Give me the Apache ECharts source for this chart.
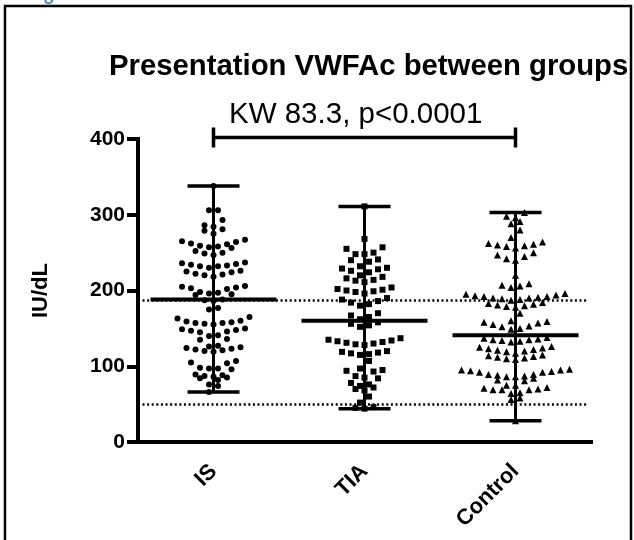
<!DOCTYPE html>
<html>
<head>
<meta charset="utf-8">
<script src="https://cdn.jsdelivr.net/npm/echarts@6/dist/echarts.min.js"></script>
<style>
  html, body { margin: 0; padding: 0; background: #fff; }
  #main { width: 634px; height: 540px; }
</style>
</head>
<body>
<div id="main"></div>
<script>
  // groups on the x axis
  const groups = ['IS', 'TIA', 'Control'];

  // VWFAc values (IU/dL)
  const isValues = [
    338, 306, 306, 293, 286, 284, 281, 279, 275,
    267, 265, 264, 262, 261, 259, 258, 257, 256,
    252, 250, 249, 247,
    237, 236, 235, 234, 233, 232, 232, 230,
    226, 225, 224, 222, 221, 220, 218,
    206, 205, 204, 203, 202, 198, 197, 196, 195, 194,
    188, 187, 186, 177, 175,
    165, 163, 160, 159, 158, 157, 157, 156, 155,
    150, 149, 148, 147, 146, 145, 141, 140, 136, 135,
    127, 126, 125, 124, 123, 122, 121, 120, 119,
    107, 105, 104, 98, 97, 97, 96,
    89, 88, 87, 86, 85, 84, 82, 76, 74, 66
  ];
  const tiaValues = [
    311, 268, 257, 255, 250, 248, 248, 241, 240, 238,
    232, 230, 229, 228, 226, 224, 220, 218, 216, 214, 213, 211,
    204, 202, 201, 200, 199, 198, 196, 190, 188, 186, 184, 182, 180,
    170, 167, 165, 162, 158, 156, 154, 152,
    137, 135, 134, 133, 132, 131, 130, 129, 128,
    120, 119, 118, 117, 116, 115, 107,
    97, 95, 94, 93, 87, 85, 84,
    78, 76, 74, 72, 70, 68, 60, 52, 46, 45, 44
  ];
  const controlValues = [
    303, 298, 296, 291, 288, 280, 270, 264,
    262, 261, 260, 259, 258, 256, 250, 247, 245, 242, 240,
    220, 209, 207, 206, 204,
    196, 195, 194, 193, 192, 192, 191, 190, 190, 189, 188, 187,
    184, 183, 182, 181, 180, 179, 178, 170,
    160, 159, 158, 157, 155, 153, 152, 150, 149,
    138, 137, 136, 135, 135, 134, 133, 132,
    126, 125, 124, 123, 122, 121, 120, 119,
    117, 115, 114, 113, 112, 111, 110, 109,
    96, 95, 95, 94, 93, 92, 92, 89, 89, 88, 87, 86, 86, 84, 82, 81,
    75, 75, 72, 71, 70, 69, 69, 69, 65, 64, 58, 56, 28
  ];
  const allValues = [isValues, tiaValues, controlValues];

  // centre line (median) per group, and dotted reference levels
  const centreLines = [188, 160, 141];
  const refLines = [187.5, 50];
  const bracketLevel = 402;

  const grid = { left: 138, right: 43, top: 139, bottom: 98 };
  const pxPerCat = (634 - grid.left - grid.right) / groups.length;
  const pxPerUnit = (540 - grid.top - grid.bottom) / 400;

  // prism style scatter: rows of points, lowest in the middle, spread out sideways
  function swarm(values, idx) {
    const rowH = 8 / pxPerUnit;
    const step = 9 / pxPerCat;
    const sorted = values.slice().sort((a, b) => b - a);
    const rows = [];
    let row = [];
    sorted.forEach(v => {
      if (row.length && row[0] - v >= rowH) { rows.push(row); row = []; }
      row.push(v);
    });
    if (row.length) rows.push(row);
    const pts = [];
    rows.forEach(r => {
      r.sort((a, b) => a - b);
      const slots = r.map((v, k) => k - (r.length - 1) / 2);
      slots.sort((a, b) => Math.abs(a) - Math.abs(b) || a - b);
      r.forEach((v, i) => pts.push([idx + 0.5 + slots[i] * step, v]));
    });
    return pts;
  }

  const rangeData = allValues.map((vals, i) =>
    [i + 0.5, Math.min(...vals), Math.max(...vals), centreLines[i]]);

  function renderRange(params, api) {
    const x = api.value(0);
    const lo = api.coord([x, api.value(1)]);
    const hi = api.coord([x, api.value(2)]);
    const mid = api.coord([x, api.value(3)]);
    const line = (x1, y1, x2, y2, w) => ({
      type: 'line',
      shape: { x1: x1, y1: y1, x2: x2, y2: y2 },
      style: { stroke: '#000', lineWidth: w }
    });
    return {
      type: 'group',
      children: [
        line(lo[0], lo[1], hi[0], hi[1], 3),
        line(lo[0] - 26, lo[1], lo[0] + 26, lo[1], 3.5),
        line(hi[0] - 26, hi[1], hi[0] + 26, hi[1], 3.5),
        line(mid[0] - 63, mid[1], mid[0] + 63, mid[1], 4)
      ]
    };
  }

  function renderBracket(params, api) {
    const a = api.coord([api.value(0), api.value(2)]);
    const b = api.coord([api.value(1), api.value(2)]);
    const line = (x1, y1, x2, y2) => ({
      type: 'line',
      shape: { x1: x1, y1: y1, x2: x2, y2: y2 },
      style: { stroke: '#000', lineWidth: 3.5 }
    });
    return {
      type: 'group',
      children: [
        line(a[0], a[1], b[0], b[1]),
        line(a[0], a[1] - 10, a[0], a[1] + 10),
        line(b[0], b[1] - 10, b[0], b[1] + 10)
      ]
    };
  }

  const chart = echarts.init(document.getElementById('main'));
  const symbols = ['circle', 'rect', 'triangle'];
  const sizes = [6, 6, 7];

  chart.setOption({
    animation: false,
    backgroundColor: '#fff',
    title: [
      {
        text: 'Presentation VWFAc between groups',
        left: 104,
        top: 47,
        textStyle: { fontFamily: 'Liberation Sans', fontSize: 29.3, fontWeight: 'bold', color: '#000' }
      },
      {
        text: 'KW 83.3, p<0.0001',
        left: 224,
        top: 95,
        textStyle: { fontFamily: 'Liberation Sans', fontSize: 29.5, fontWeight: 'normal', color: '#000' }
      }
    ],
    graphic: [
      {
        type: 'rect',
        shape: { x: 5, y: 6, width: 626, height: 600 },
        style: { fill: 'none', stroke: '#000', lineWidth: 2.5 }
      },
      {
        type: 'text',
        left: 44,
        top: -14,
        style: { text: 'g', fontFamily: 'Lato', fontSize: 18, fontWeight: 'bold', fill: '#4F81BD' }
      }
    ],
    grid: grid,
    xAxis: [
      {
        type: 'category',
        data: groups,
        axisLine: { lineStyle: { color: '#000', width: 4, cap: 'square' } },
        axisTick: { alignWithLabel: true, length: 11, lineStyle: { color: '#000', width: 4 } },
        axisLabel: {
          rotate: 45, margin: 26, color: '#000',
          fontFamily: 'Liberation Sans', fontSize: 22, fontWeight: 'bold'
        },
        splitLine: { show: false }
      },
      { type: 'value', min: 0, max: 3, show: false }
    ],
    yAxis: {
      type: 'value',
      min: 0,
      max: 400,
      interval: 100,
      name: 'IU/dL',
      nameLocation: 'middle',
      nameRotate: 90,
      nameGap: 86,
      nameTextStyle: { fontFamily: 'Liberation Sans', fontSize: 22, fontWeight: 'bold', color: '#000' },
      axisLine: { show: true, lineStyle: { color: '#000', width: 4, cap: 'square' } },
      axisTick: { show: true, length: 11, lineStyle: { color: '#000', width: 4 } },
      axisLabel: { margin: 13, color: '#000', fontFamily: 'Liberation Sans', fontSize: 21, fontWeight: 'bold' },
      splitLine: { show: false }
    },
    series: [
      {
        type: 'custom',
        xAxisIndex: 1,
        renderItem: renderRange,
        data: rangeData,
        z: 3,
        markLine: {
          silent: true,
          symbol: 'none',
          label: { show: false },
          lineStyle: { color: '#000', width: 2.5, type: [2, 2.6] },
          data: refLines.map(v => [{ coord: [0.03, v] }, { coord: [2.97, v] }])
        }
      },
      {
        type: 'custom',
        xAxisIndex: 1,
        clip: false,
        renderItem: renderBracket,
        data: [[0.5, 2.5, bracketLevel]]
      }
    ].concat(allValues.map((vals, i) => ({
      type: 'scatter',
      xAxisIndex: 1,
      symbol: symbols[i],
      symbolSize: sizes[i],
      itemStyle: { color: '#000', opacity: 1 },
      z: 2,
      data: swarm(vals, i)
    })))
  });
</script>
</body>
</html>
